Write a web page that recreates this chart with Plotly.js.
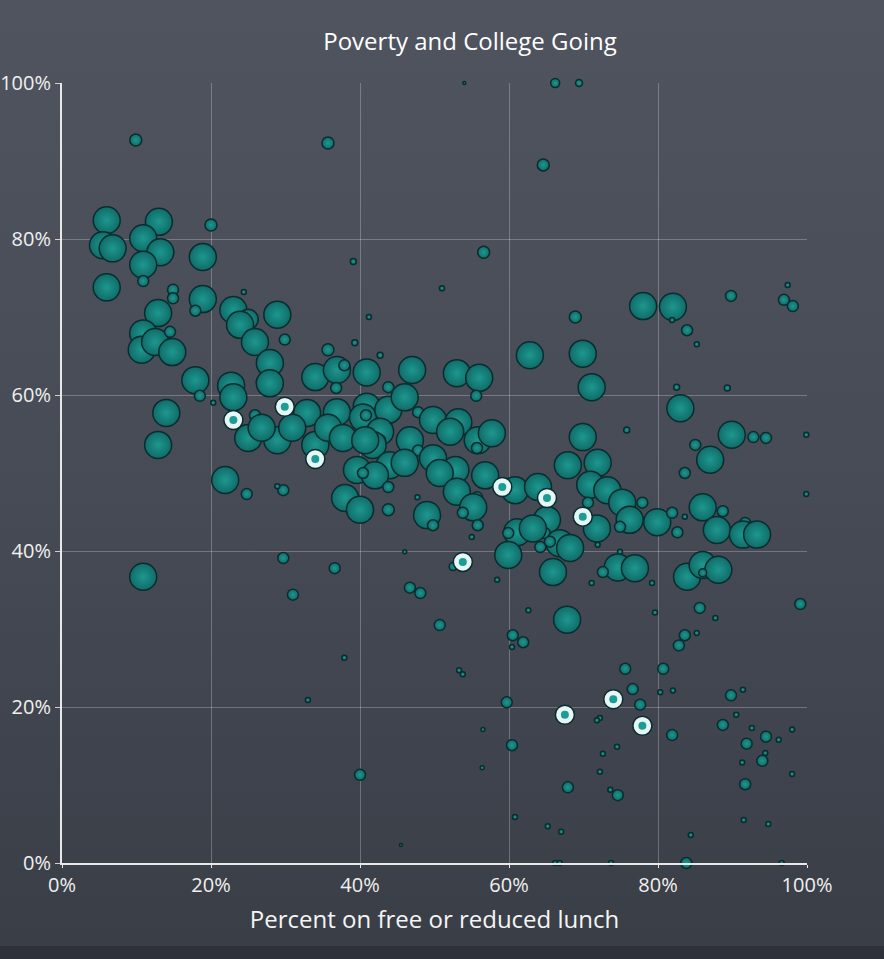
<!DOCTYPE html>
<html>
<head>
<meta charset="utf-8">
<script src="https://cdn.plot.ly/plotly-3.0.1.min.js"></script>
<style>
  html, body { margin: 0; padding: 0; width: 884px; height: 959px; overflow: hidden; }
  body { background: linear-gradient(to bottom, #4f545f 0%, #474b56 50%, #3a3e47 98%); position: relative; }
  #strip { position: absolute; left: 0; top: 946px; width: 884px; height: 13px; background: #2e3138; }
  #chart { position: absolute; left: 0; top: 0; width: 884px; height: 959px; }
</style>
</head>
<body>
<div id="strip"></div>
<div id="chart"></div>
<script>
// Percent of students on free or reduced lunch (x) and percent going to college (y), bubble = class size
const lunchPct = [
  9.9, 35.7, 6.0, 13.0, 20.0, 5.5, 6.8, 10.9, 13.2, 18.9, 10.9, 10.9, 39.1, 6.0, 14.9, 14.9, 18.9, 17.9, 24.4, 23.0,
  25.0, 23.9, 28.9, 25.9, 29.9, 27.9, 26.8, 27.9, 35.7, 39.3, 34.0, 36.9, 37.9, 36.8, 12.9, 10.9, 10.7, 12.5, 14.8, 14.5,
  17.9, 18.5, 20.3, 22.7, 23.0, 25.9, 32.9, 36.9, 25.0, 28.9, 26.8, 34.0, 30.9, 35.7, 40.9, 43.8, 42.7, 47.0, 53.0, 56.0,
  55.6, 37.7, 40.9, 40.4, 40.8, 43.8, 46.0, 47.8, 49.8, 53.2, 52.1, 55.8, 55.7, 57.7, 42.7, 42.7, 41.7, 40.7, 46.7, 47.8,
  49.8, 52.8, 50.7, 56.8, 44.0, 46.0, 39.6, 42.0, 40.4, 43.8, 53.0, 55.7, 55.2, 53.8, 38.0, 40.0, 43.8, 49.0, 49.8, 55.8,
  55.0, 47.7, 21.9, 24.8, 29.7, 28.9, 29.7, 36.6, 31.0, 46.7, 48.1, 46.0, 58.4, 71.1, 83.0, 82.5, 89.3, 69.9, 75.8, 89.9,
  85.0, 87.0, 83.6, 67.9, 71.9, 60.8, 63.9, 70.9, 73.2, 75.2, 77.9, 76.2, 79.9, 81.9, 83.6, 82.6, 71.8, 70.6, 74.9, 86.0,
  88.7, 87.9, 91.7, 91.4, 93.3, 61.1, 59.9, 65.1, 64.8, 66.8, 68.2, 65.5, 64.2, 63.2, 59.9, 71.9, 74.9, 65.9, 74.6, 76.9,
  72.6, 83.9, 86.0, 88.1, 86.0, 71.1, 79.2, 62.6, 79.6, 67.8, 85.6, 87.7, 99.1, 60.5, 61.9, 60.4, 83.6, 82.8, 85.2, 75.6,
  80.7, 76.6, 80.3, 82.0, 77.6, 59.7, 72.2, 71.8, 81.9, 89.8, 91.4, 88.7, 90.5, 94.5, 91.9, 92.6, 96.2, 98.0, 94.0, 94.4,
  91.3, 60.4, 74.5, 72.6, 72.2, 67.9, 74.6, 73.6, 91.7, 98.0, 60.8, 65.2, 67.0, 84.4, 91.5, 94.8, 66.2, 66.8, 73.7, 83.8,
  96.6, 89.8, 97.4, 96.9, 98.1, 78.0, 82.0, 81.9, 83.9, 85.2, 99.9, 92.8, 94.5, 99.9, 64.6, 56.6, 51.0, 41.2, 68.9, 62.8,
  69.9, 66.2, 69.4, 54.0, 14.0, 12.9, 10.9, 40.0, 50.7, 37.9, 33.0, 53.3, 53.8, 56.5, 56.4, 45.5, 52.5
];
const collegePct = [
  92.7, 92.3, 82.4, 82.2, 81.8, 79.2, 78.8, 80.1, 78.3, 77.7, 76.7, 74.6, 77.1, 73.8, 73.5, 72.4, 72.3, 70.8, 73.2, 70.9,
  69.7, 69.0, 70.3, 66.8, 67.1, 64.1, 61.7, 61.5, 65.8, 66.7, 62.3, 63.2, 63.8, 60.9, 70.5, 67.9, 65.8, 66.8, 65.5, 68.1,
  61.9, 59.9, 59.0, 61.2, 59.7, 57.4, 57.7, 57.8, 54.5, 54.2, 55.8, 53.6, 55.8, 55.8, 62.9, 61.0, 65.1, 63.2, 62.8, 62.2,
  59.9, 54.5, 58.5, 57.1, 57.4, 58.1, 59.7, 57.8, 56.8, 56.5, 55.3, 54.2, 53.2, 55.1, 55.3, 54.2, 53.6, 54.2, 54.2, 52.9,
  51.9, 50.4, 50.0, 49.7, 51.0, 51.3, 50.4, 49.7, 50.0, 48.2, 47.6, 46.9, 45.6, 44.9, 46.8, 45.3, 45.3, 44.6, 43.3, 43.3,
  41.8, 46.9, 49.1, 47.3, 47.8, 48.3, 39.1, 37.8, 34.4, 35.3, 34.6, 39.9, 36.3, 61.0, 58.3, 61.0, 60.9, 54.6, 55.5, 54.9,
  53.6, 51.7, 50.0, 51.0, 51.3, 47.8, 48.2, 48.5, 47.8, 46.2, 46.2, 44.0, 43.7, 44.9, 44.4, 42.4, 42.9, 46.2, 43.1, 45.6,
  45.1, 42.7, 43.6, 42.1, 42.1, 42.4, 42.3, 44.0, 42.3, 41.0, 40.4, 41.2, 40.5, 42.9, 39.5, 40.8, 39.9, 37.3, 37.9, 37.8,
  37.3, 36.7, 38.2, 37.6, 37.2, 35.9, 35.9, 32.4, 32.1, 31.2, 32.7, 31.4, 33.2, 29.2, 28.3, 27.7, 29.2, 27.9, 29.5, 24.9,
  24.9, 22.3, 21.9, 22.1, 20.3, 20.6, 18.6, 18.3, 16.4, 21.5, 22.2, 17.7, 19.0, 16.2, 15.3, 17.3, 15.8, 17.1, 13.1, 14.1,
  12.9, 15.1, 14.9, 14.0, 11.7, 9.7, 8.7, 9.4, 10.1, 11.4, 5.9, 4.7, 4.0, 3.6, 5.5, 5.0, 0.0, 0.0, 0.0, 0.0,
  0.0, 72.7, 74.1, 72.2, 71.4, 71.4, 71.3, 69.6, 68.3, 66.5, 54.9, 54.6, 54.5, 47.3, 89.5, 78.3, 73.7, 70.0, 70.0, 65.1,
  65.3, 100.0, 100.0, 100.0, 57.7, 53.6, 36.7, 11.3, 30.5, 26.3, 20.9, 24.7, 24.2, 17.1, 12.2, 2.3, 38.0
];
const classSize = [
  12, 12, 27, 27, 12, 27, 27, 27, 27, 27, 27, 11, 6, 27, 11, 11, 27, 11, 5, 27,
  20, 27, 27, 27, 11, 27, 11, 27, 12, 6, 27, 27, 11, 11, 27, 27, 27, 27, 27, 11,
  27, 11, 5, 27, 27, 11, 27, 27, 27, 27, 27, 27, 27, 27, 27, 11, 6, 27, 27, 27,
  11, 27, 27, 27, 11, 27, 27, 11, 27, 27, 27, 27, 11, 27, 27, 11, 27, 27, 27, 11,
  27, 27, 27, 27, 27, 27, 27, 27, 11, 11, 27, 11, 27, 11, 27, 27, 12, 27, 11, 11,
  5, 5, 27, 11, 11, 5, 11, 11, 11, 11, 11, 4, 5, 27, 27, 6, 6, 27, 6, 27,
  11, 27, 11, 27, 27, 27, 27, 27, 27, 27, 11, 27, 27, 11, 5, 11, 27, 11, 11, 27,
  11, 27, 11, 27, 27, 27, 11, 27, 11, 27, 27, 11, 11, 27, 27, 5, 5, 27, 27, 27,
  11, 27, 27, 27, 8, 5, 5, 5, 5, 27, 11, 5, 11, 11, 11, 5, 11, 11, 5, 11,
  11, 11, 5, 5, 11, 11, 5, 5, 11, 11, 5, 11, 5, 11, 11, 5, 5, 5, 11, 5,
  5, 11, 5, 5, 5, 11, 11, 5, 11, 5, 5, 5, 5, 5, 5, 5, 5, 5, 5, 11,
  5, 11, 5, 11, 11, 27, 27, 5, 11, 5, 5, 11, 11, 5, 12, 12, 5, 5, 12, 27,
  27, 9, 7, 3, 27, 27, 27, 11, 11, 5, 5, 5, 5, 4, 4, 3, 8
];
// Highlighted schools
const hlLunchPct = [23.0, 29.9, 34.0, 53.8, 59.1, 65.1, 69.9, 67.5, 74.0, 77.9];
const hlCollegePct = [56.8, 58.5, 51.8, 38.6, 48.2, 46.8, 44.4, 19.0, 21.0, 17.6];
const xTicks = [0, 20, 40, 60, 80, 100];
const yTicks = [0, 20, 40, 60, 80, 100];

const FONT = '"Open Sans", "Noto Sans", sans-serif';

const traces = [
  {
    type: 'scatter', mode: 'markers', x: lunchPct, y: collegePct, cliponaxis: false,
    hoverinfo: 'x+y',
    marker: {
      size: classSize, sizemode: 'diameter', sizeref: 1,
      color: '#106c68',
      gradient: { type: 'radial', color: '#1d978f' },
      line: { color: '#0a2c2f', width: 1.5 },
      opacity: 1
    }
  },
  {
    type: 'scatter', mode: 'markers', x: hlLunchPct, y: hlCollegePct, cliponaxis: false,
    hoverinfo: 'skip',
    marker: { size: 19, color: '#e6f6f4', line: { color: '#0a2c2f', width: 1.5 } }
  },
  {
    type: 'scatter', mode: 'markers', x: hlLunchPct, y: hlCollegePct, cliponaxis: false,
    hoverinfo: 'x+y',
    marker: { size: 8, color: '#1c9c94', line: { width: 0 } }
  }
];

const layout = {
  width: 884, height: 959,
  margin: { l: 62, r: 77, t: 83, b: 96 },
  paper_bgcolor: 'rgba(0,0,0,0)',
  plot_bgcolor: 'rgba(0,0,0,0)',
  showlegend: false,
  font: { family: FONT, color: '#f0f0f0' },
  title: {
    text: 'Poverty and College Going',
    font: { family: FONT, size: 24, color: '#ffffff' },
    xref: 'container', yref: 'container',
    x: 470 / 884, xanchor: 'center',
    y: 1 - 42 / 959, yanchor: 'middle'
  },
  xaxis: {
    range: [0, 100], tickvals: xTicks, ticktext: xTicks.map(v => v + '%'),
    showgrid: true, gridcolor: 'rgba(255,255,255,0.25)', gridwidth: 1,
    showline: true, linecolor: '#e8e8e8', linewidth: 2, zeroline: false,
    ticks: 'outside', ticklen: 3, tickcolor: '#e8e8e8',
    tickfont: { family: FONT, size: 20, color: '#f0f0f0' },
    title: { text: 'Percent on free or reduced lunch', font: { family: FONT, size: 24, color: '#f5f5f5' }, standoff: 14 },
    fixedrange: true
  },
  yaxis: {
    range: [0, 100], tickvals: yTicks, ticktext: yTicks.map(v => v + '%'),
    showgrid: true, gridcolor: 'rgba(255,255,255,0.25)', gridwidth: 1,
    showline: true, linecolor: '#e8e8e8', linewidth: 2, zeroline: false,
    ticks: 'outside', ticklen: 5, tickcolor: '#cfcfcf',
    tickfont: { family: FONT, size: 20, color: '#f0f0f0' },
    fixedrange: true
  }
};

Plotly.newPlot('chart', traces, layout, { displayModeBar: false, staticPlot: true });
</script>
</body>
</html>
